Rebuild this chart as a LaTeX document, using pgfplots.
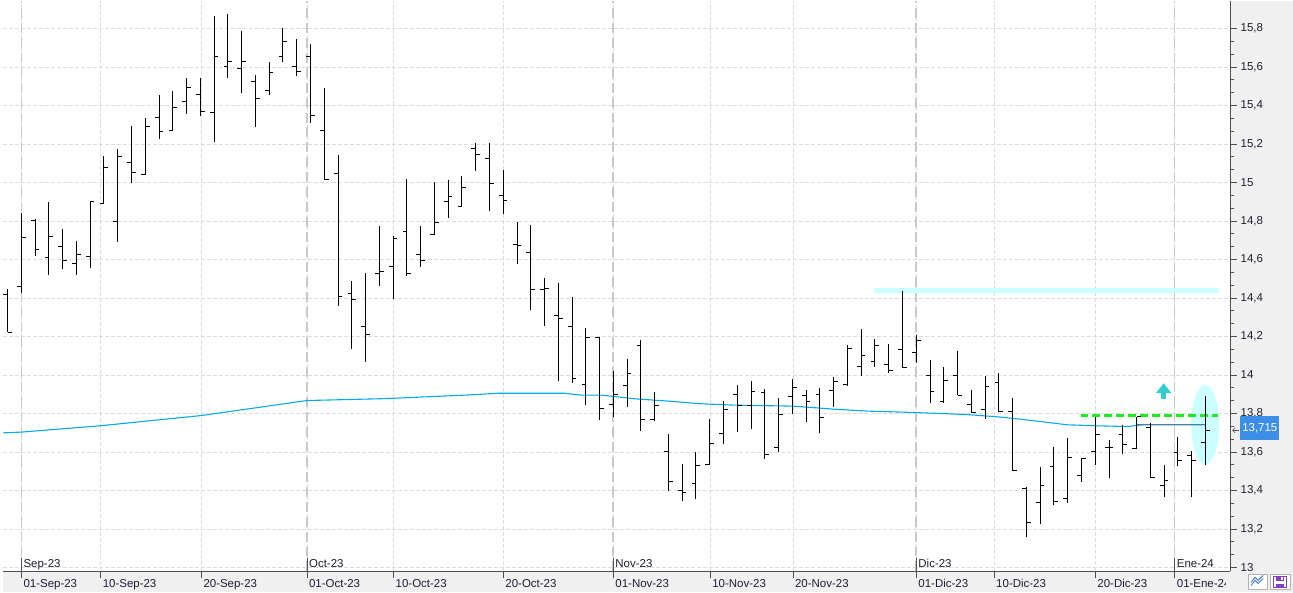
\documentclass[border=0pt]{standalone}
\usepackage{fontspec}
\setmainfont{Liberation Sans}
\usepackage{pgfplots}
\usepackage{pgfplotstable}
\pgfplotsset{compat=1.18}
\usetikzlibrary{arrows.meta}

\definecolor{gridc}{RGB}{220,220,220}
\definecolor{monthc}{RGB}{200,200,200}
\definecolor{mac}{RGB}{0,170,235}
\definecolor{bandc}{RGB}{240,240,240}
\definecolor{axc}{RGB}{80,80,80}
\definecolor{cyanl}{RGB}{204,255,255}
\definecolor{greenc}{RGB}{30,235,30}
\definecolor{arrowc}{RGB}{51,204,204}
\definecolor{boxc}{RGB}{61,142,230}
\definecolor{purp}{RGB}{128,64,192}
\definecolor{labc}{RGB}{30,30,50}
\newcommand\tfont{\fontsize{11.5}{13.8}\selectfont}

\pgfplotstableread{
i o h l c
0 14.418 14.449 14.221 14.221
1 14.461 14.841 14.424 14.714
2 14.804 14.812 14.618 14.653
3 14.610 14.897 14.520 14.721
4 14.667 14.760 14.548 14.596
5 14.579 14.695 14.520 14.626
6 14.615 14.900 14.558 14.900
7 14.890 15.135 14.890 15.077
8 14.798 15.175 14.691 15.134
9 15.103 15.291 14.997 15.051
10 15.044 15.337 15.040 15.289
11 15.336 15.457 15.225 15.263
12 15.268 15.477 15.268 15.388
13 15.420 15.545 15.355 15.491
14 15.455 15.545 15.344 15.367
15 15.362 15.866 15.209 15.652
16 15.605 15.877 15.541 15.626
17 15.590 15.788 15.463 15.631
18 15.524 15.560 15.287 15.434
19 15.476 15.628 15.453 15.569
20 15.652 15.804 15.624 15.735
21 15.600 15.747 15.552 15.574
22 15.652 15.718 15.308 15.348
23 15.268 15.491 15.016 15.018
24 15.046 15.144 14.359 14.410
25 14.424 14.487 14.136 14.392
26 14.252 14.529 14.069 14.211
27 14.527 14.772 14.463 14.538
28 14.563 14.721 14.392 14.709
29 14.746 15.020 14.512 14.525
30 14.626 14.772 14.561 14.595
31 14.729 15.000 14.729 14.792
32 14.900 15.011 14.816 14.926
33 14.875 15.032 14.875 14.973
34 15.175 15.206 15.059 15.144
35 15.123 15.206 14.852 14.994
36 14.932 15.063 14.836 14.906
37 14.678 14.793 14.577 14.672
38 14.636 14.781 14.337 14.444
39 14.444 14.503 14.256 14.451
40 14.310 14.477 13.971 14.294
41 14.252 14.403 13.960 13.979
42 13.952 14.244 13.845 14.196
43 14.196 14.196 13.767 13.825
44 13.846 14.019 13.779 13.900
45 13.947 14.083 13.836 14.009
46 14.154 14.181 13.711 13.768
47 13.768 13.910 13.763 13.843
48 13.604 13.694 13.395 13.444
49 13.399 13.539 13.343 13.387
50 13.438 13.601 13.354 13.532
51 13.537 13.772 13.537 13.646
52 13.698 13.865 13.639 13.822
53 13.900 13.948 13.706 13.839
54 13.839 13.969 13.717 13.915
55 13.910 13.927 13.561 13.589
56 13.625 13.881 13.602 13.796
57 13.889 13.979 13.799 13.936
58 13.894 13.922 13.758 13.863
59 13.900 13.933 13.696 13.781
60 13.921 13.988 13.836 13.967
61 13.952 14.154 13.941 14.138
62 14.045 14.237 13.996 14.102
63 14.071 14.185 14.043 14.154
64 14.056 14.159 14.012 14.024
65 14.133 14.437 14.040 14.040
66 14.118 14.206 14.064 14.180
67 13.998 14.078 13.856 13.915
68 13.860 14.040 13.856 13.972
69 13.998 14.124 13.895 13.895
70 13.848 13.921 13.801 13.807
71 13.819 13.995 13.770 13.941
72 13.962 14.009 13.807 13.812
73 13.812 13.881 13.501 13.501
74 13.411 13.416 13.159 13.231
75 13.335 13.522 13.224 13.428
76 13.522 13.627 13.322 13.345
77 13.357 13.672 13.335 13.573
78 13.475 13.568 13.444 13.568
79 13.604 13.784 13.533 13.689
80 13.621 13.663 13.462 13.621
81 13.693 13.741 13.589 13.637
82 13.618 13.784 13.616 13.784
83 13.729 13.750 13.468 13.468
84 13.428 13.533 13.366 13.450
85 13.596 13.677 13.525 13.553
86 13.579 13.604 13.364 13.558
87 13.651 13.888 13.533 13.713
}\ohlc

\pgfplotstableread{
x y
-0.326 13.699
1.00 13.703
6.75 13.736
14.07 13.789
21.74 13.867
27.45 13.877
33.49 13.896
35.67 13.905
40.38 13.905
41.70 13.895
43.15 13.895
45.57 13.876
47.99 13.864
50.40 13.850
52.81 13.843
57.04 13.838
60.06 13.822
62.48 13.812
64.89 13.807
67.30 13.801
69.72 13.794
72.14 13.781
74.55 13.762
76.97 13.741
79.00 13.736
81.32 13.732
82.52 13.741
86.94 13.741
}\matab

\begin{document}
\begin{tikzpicture}[x=1pt,y=1pt]
\begin{axis}[
  set layers,
  scale only axis, width=1230pt, height=572pt,
  xmin=-0.326, xmax=88.80, ymin=12.979, ymax=15.944,
  clip=false,
  axis x line*=bottom, axis y line*=right,
  axis line style={axc, line width=0.8pt, -},
  tick align=outside,
  major tick length=7pt, minor tick length=4pt,
  tick style={axc, line width=0.8pt},
  ytick={13,13.2,13.4,13.6,13.8,14,14.2,14.4,14.6,14.8,15,15.2,15.4,15.6,15.8},
  minor y tick num=2,
  /pgf/number format/assume math mode=true,
  yticklabel style={/pgf/number format/.cd, use comma, fixed, precision=1, /tikz/.cd, anchor=west},
  xtick={1.0,6.754,14.07,21.74,28.03,36.0,43.99,51.03,57.04,66.0,71.65,79.0,84.77},
  xticklabels={01-Sep-23,10-Sep-23,20-Sep-23,01-Oct-23,10-Oct-23,20-Oct-23,01-Nov-23,10-Nov-23,20-Nov-23,01-Dic-23,10-Dic-23,20-Dic-23,01-Ene-24},
  xticklabel style={anchor=north west, inner sep=0pt, xshift=2pt, yshift=-1pt},
  tick label style={font=\tfont, text=labc},
  xmajorgrids, ymajorgrids,
  major grid style={gridc, dash pattern=on 4pt off 2pt, line width=0.8pt},
]
% panels
\begin{pgfonlayer}{axis background}
\fill[bandc] ([yshift=-21pt]rel axis cs:0,0) rectangle ([xshift=63pt]rel axis cs:1,0);
\fill[bandc] (rel axis cs:1,0) rectangle ([xshift=63pt]rel axis cs:1,1);
\coordinate (br) at (rel axis cs:1,0);
\end{pgfonlayer}
% month gridlines
\pgfplotsinvokeforeach{1.0,21.74,43.99,66.0,84.77}{
  \draw[monthc, line width=1.6pt, dash pattern=on 10pt off 5pt] (axis cs:#1,12.979) -- (axis cs:#1,15.944);
  \draw[axc, line width=0.8pt] (axis cs:#1,12.979) -- ([yshift=13pt]axis cs:#1,12.979);
}
\node[anchor=base west, font=\tfont, text=labc, inner sep=0pt, xshift=2pt, yshift=4pt] at (axis cs:1.0,12.979) {Sep-23};
\node[anchor=base west, font=\tfont, text=labc, inner sep=0pt, xshift=2pt, yshift=4pt] at (axis cs:21.74,12.979) {Oct-23};
\node[anchor=base west, font=\tfont, text=labc, inner sep=0pt, xshift=2pt, yshift=4pt] at (axis cs:43.99,12.979) {Nov-23};
\node[anchor=base west, font=\tfont, text=labc, inner sep=0pt, xshift=2pt, yshift=4pt] at (axis cs:66.0,12.979) {Dic-23};
\node[anchor=base west, font=\tfont, text=labc, inner sep=0pt, xshift=2pt, yshift=4pt] at (axis cs:84.77,12.979) {Ene-24};

% highlight ellipse
\fill[cyanl] (axis cs:86.99,13.741) ellipse [x radius=14pt, y radius=40pt];
% resistance band
\addplot[cyanl, line width=5pt, forget plot] coordinates {(62.96,14.437) (87.96,14.437)};
% moving average
\addplot[mac, line width=1.1pt, forget plot] table[x=x, y=y] {\matab};
\addplot[color={rgb,255:red,90;green,120;blue,150}, line width=0.8pt, forget plot] coordinates {(82.0,13.741) (86.94,13.741)};
% green dashed level
\addplot[greenc, line width=3pt, dash pattern=on 8pt off 4pt, forget plot] coordinates {(77.93,13.788) (87.91,13.788)};
% arrow
\draw[arrowc, line width=5pt, -{Triangle[width=15pt, length=10pt]}] (axis cs:83.97,13.877) -- (axis cs:83.97,13.957);

% OHLC bars
\addplot[draw=none, mark=none, forget plot, error bars/.cd, y dir=plus, y explicit, error mark=none,
  error bar style={draw=black, solid, line width=1pt}]
  table[x=i, y=l, y error plus expr=\thisrow{h}-\thisrow{l}] {\ohlc};
\addplot[draw=none, mark=none, forget plot, error bars/.cd, x dir=minus, x fixed=0.31, error mark=none,
  error bar style={draw=black, solid, line width=1pt}]
  table[x=i, y=o] {\ohlc};
\addplot[draw=none, mark=none, forget plot, error bars/.cd, x dir=plus, x fixed=0.31, error mark=none,
  error bar style={draw=black, solid, line width=1pt}]
  table[x=i, y=c] {\ohlc};

% last price box
\node[fill=boxc, text=white, font=\tfont, inner sep=0pt, minimum width=39pt, minimum height=24pt, anchor=west, xshift=10pt] at (axis cs:88.80,13.725) {13,715};
\draw[axc, line width=0.6pt, -{Straight Barb[length=2.5pt,width=5pt]}] ([xshift=9pt]axis cs:88.80,13.712) -- ([xshift=2pt]axis cs:88.80,13.712);
\end{axis}
\begin{scope}[shift={([xshift=-1230pt,yshift=-21pt]br)}]
% cover overflow of last date label
\fill[bandc] (1225.5,0) rectangle (1293,20.5);
% icons
\draw[gray!60, fill=white, line width=0.6pt] (1248,3) rectangle (1267,18);
\draw[color={rgb,255:red,60;green,120;blue,200}, line width=0.9pt] (1251,7) -- (1255,12) -- (1258,9) -- (1263,14);
\draw[color={rgb,255:red,60;green,120;blue,200}, line width=0.9pt] (1251,10) -- (1255,15) -- (1258,12) -- (1263,17);
\draw[gray!60, fill=white, line width=0.6pt] (1270,3) rectangle (1290,18);
\draw[purp, line width=1.6pt] (1273.5,5) rectangle (1286.5,16);
\fill[purp] (1276,11) rectangle (1284,16);
\fill[white] (1281,12.5) rectangle (1283,15);
\fill[purp] (1276,5) rectangle (1284,8.5);
\end{scope}
\end{tikzpicture}
\end{document}
